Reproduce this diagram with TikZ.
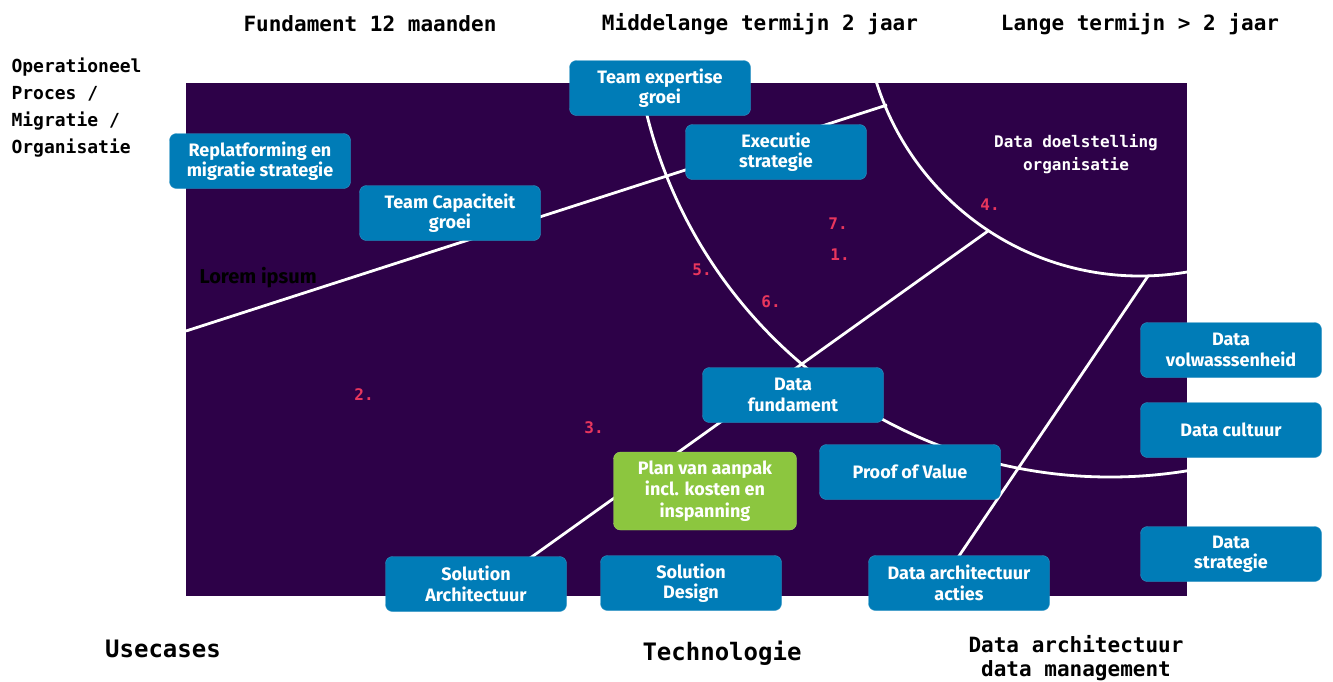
\documentclass[tikz,border=0pt]{standalone}
\usepackage{fontspec}
\setmainfont{Fira Sans}
\setmonofont{DejaVu Sans Mono}
\definecolor{paars}{HTML}{2D0148}
\definecolor{blauw}{HTML}{007CB7}
\definecolor{groen}{HTML}{8CC63F}
\definecolor{roze}{HTML}{E8365D}
\tikzset{
  blok/.style={fill=blauw, draw=blauw!80!white, rounded corners=7pt, minimum width=181pt, minimum height=55pt, inner sep=0pt, text=white, align=center, font=\bfseries\fontsize{18}{20.5}\selectfont},
  kop/.style={font=\ttfamily\bfseries\fontsize{21}{24}\selectfont, align=center},
  nummer/.style={text=roze, font=\ttfamily\bfseries\fontsize{16}{18}\selectfont},
  lijn/.style={white, line width=2.8pt}
}
\begin{document}
\begin{tikzpicture}[x=1pt,y=-1pt]
\useasboundingbox (0,0) rectangle (1333,681);
\fill[paars] (186,83) rectangle (1187,596);

% lijnen en bogen
\coordinate (links) at (186,331);
\coordinate (boven) at (887,105);
\coordinate (knik) at (988,231);
\coordinate (onder) at (477,596);
\coordinate (rechts) at (1148,276);
\coordinate (voet) at (932,596);
\begin{scope}
\clip (186,83) rectangle (1187,596);
\draw[lijn] (1140,0) circle[radius=276pt];
\draw[lijn] (1110,0) circle[radius=477pt];
\draw[lijn] (links) -- (boven);
\draw[lijn] (knik) -- (onder);
\draw[lijn] (rechts) -- (voet);
\end{scope}

% koppen
\node[kop] (fundament) at (370,24) {Fundament 12 maanden};
\node[kop] (middel) at (760,24) {Middelange termijn 2 jaar};
\node[kop] (lang) at (1140,24) {Lange termijn > 2 jaar};
\node[kop, anchor=north west, align=left, font=\ttfamily\bfseries\fontsize{18}{27}\selectfont] (operationeel) at (8,54) {Operationeel\\Proces /\\Migratie /\\Organisatie};
\node[kop, font=\ttfamily\bfseries\fontsize{24}{28}\selectfont] (usecases) at (163,649) {Usecases};
\node[kop, font=\ttfamily\bfseries\fontsize{24}{28}\selectfont] (technologie) at (722,653) {Technologie};
\node[kop] (architectuur) at (1076,658) {Data architectuur\\data management};
\node[kop, text=white, font=\ttfamily\bfseries\fontsize{16}{23}\selectfont] (doel) at (1076,154) {Data doelstelling\\organisatie};
\node[anchor=west, font=\bfseries\fontsize{20}{22}\selectfont] (lorem) at (196,278) {Lorem ipsum};

% nummers
\node[nummer] (n7) at (838,224) {7.};
\node[nummer] (n1) at (840,255) {1.};
\node[nummer] (n5) at (702,270) {5.};
\node[nummer] (n6) at (771,302) {6.};
\node[nummer] (n4) at (990,205) {4.};
\node[nummer] (n2) at (364,395) {2.};
\node[nummer] (n3) at (594,428) {3.};

% blokken
\node[blok] (expertise) at (660,88) {Team expertise\\groei};
\node[blok] (executie) at (776,152) {Executie\\strategie};
\node[blok] (replatforming) at (260,161) {Replatforming en\\migratie strategie};
\node[blok] (capaciteit) at (450,213) {Team Capaciteit\\groei};
\node[blok] (datafundament) at (793,395) {Data\\fundament};
\node[blok] (proof) at (910,472) {Proof of Value};
\node[blok, fill=groen, draw=groen!80!white, minimum width=183pt, minimum height=78pt, font=\bfseries\fontsize{18}{21.5}\selectfont] (plan) at (705,491) {Plan van aanpak\\incl. kosten en\\inspanning};
\node[blok] (solarch) at (476,584) {Solution\\Architectuur};
\node[blok] (soldesign) at (691,583) {Solution\\Design};
\node[blok] (acties) at (959,583) {Data architectuur\\acties};
\node[blok] (volwassen) at (1231,350) {Data\\volwasssenheid};
\node[blok] (cultuur) at (1231,430) {Data cultuur};
\node[blok] (strategie) at (1231,554) {Data\\strategie};
\end{tikzpicture}
\end{document}
